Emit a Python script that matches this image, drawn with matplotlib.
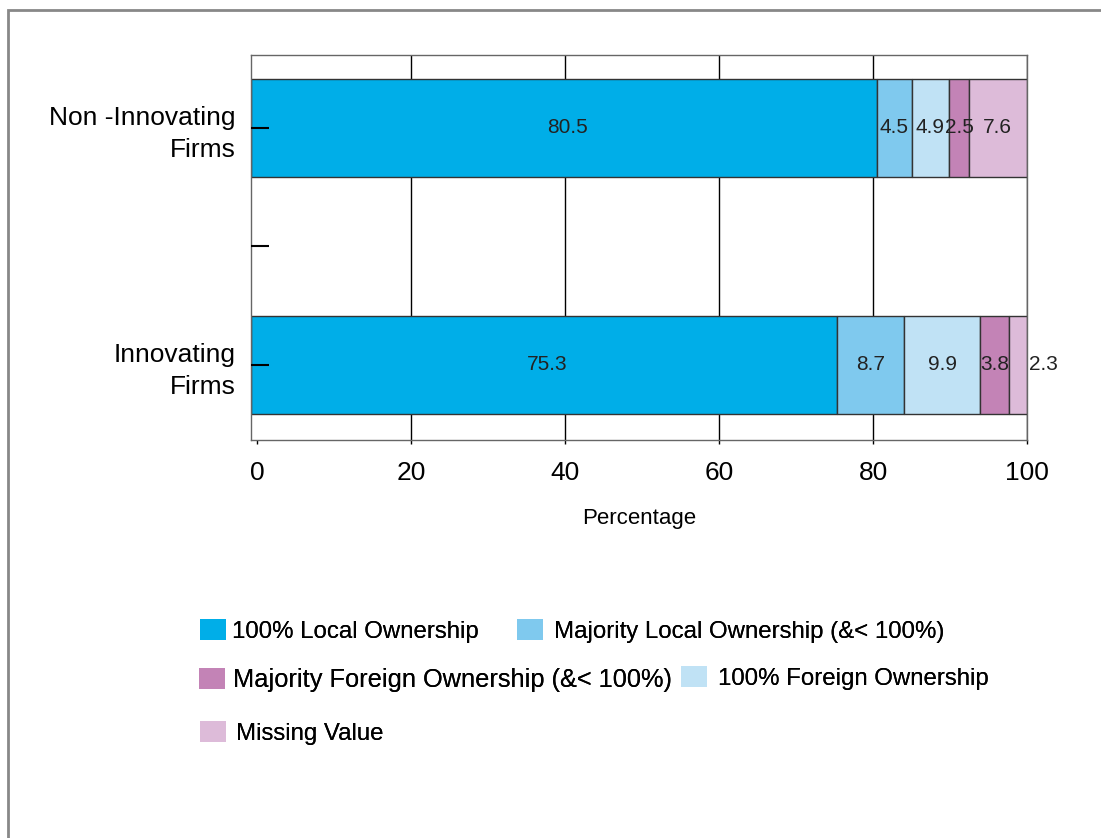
import matplotlib
matplotlib.use("Agg")
import matplotlib.pyplot as plt
from matplotlib.patches import Patch, Rectangle

plt.rcParams['font.family'] = ['Liberation Sans', 'DejaVu Sans']

# data
categories = ['Innovating\nFirms', '', 'Non -Innovating\nFirms']
series_names = ['100% Local Ownership', 'Majority Local Ownership (&< 100%)',
                '100% Foreign Ownership', 'Majority Foreign Ownership (&< 100%)',
                'Missing Value']
innovating = [75.3, 8.7, 9.9, 3.8, 2.3]
non_innovating = [80.5, 4.5, 4.9, 2.5, 7.6]
colors = ['#00AEE8', '#7FC9EE', '#C0E2F5', '#C383B6', '#DDBBD9']

fig = plt.figure(figsize=(11.01, 8.38), dpi=100)
ax = fig.add_axes([0.228, 0.475, 0.7049, 0.4594])

x0 = -0.8
ax.set_xlim(x0, 100)
ax.set_ylim(-0.633, 2.616)

rows = {0: innovating, 2: non_innovating}
for ypos, vals in rows.items():
    left = 0
    for i, v in enumerate(vals):
        # first segment runs from the axis edge, like the original
        start = x0 if i == 0 else left
        ax.barh(ypos, left + v - start, left=start, height=0.82, color=colors[i],
                edgecolor='#333333', linewidth=1, zorder=2)
        if i == len(vals) - 1 and v < 2.4:
            ax.text(left + v + 0.2, ypos, f'{v}', ha='left', va='center',
                    fontsize=15, color='#222222', zorder=4)
        else:
            ax.text(left + v / 2, ypos, f'{v}', ha='center', va='center',
                    fontsize=15, color='#222222', zorder=4)
        left += v

ax.set_xticks([0, 20, 40, 60, 80, 100])
ax.set_yticks([0, 1, 2])
ax.set_yticklabels(categories, fontsize=19, ha='right', linespacing=1.4)
ax.tick_params(axis='x', labelsize=19, direction='out', length=3, width=1,
               pad=12, color='black')
ax.tick_params(axis='y', direction='in', length=13, width=1.5, pad=11,
               color='black')
ax.set_xlabel('Percentage', fontsize=16, labelpad=17)

ax.grid(axis='x', color='black', linewidth=1)
ax.xaxis.get_gridlines()[0].set_visible(False)
ax.set_axisbelow(True)
ax.yaxis.set_zorder(5)

for s in ax.spines.values():
    s.set_color('#666666')
    s.set_linewidth(1)

# legend items, placed one by one (patch x, centre y in pixels)
handles = [Patch(facecolor=c, edgecolor='none') for c in colors]
legend_spots = [(0, 200, 631, 0.25, 17.3), (1, 517, 631, 0.42, 17.3),
                (3, 199, 680, 0.3, 18.3), (2, 681, 678, 0.45, 17.3),
                (4, 200, 733, 0.4, 17.3)]
W, H = 1101, 838
for i, px, py, tpad, fs in legend_spots:
    leg = fig.legend([handles[i]], [series_names[i]], loc='center left',
                     bbox_to_anchor=(px / W, 1 - py / H), frameon=False,
                     fontsize=fs, handlelength=1.1 * 17.3 / fs,
                     handleheight=0.95 * 17.3 / fs,
                     handletextpad=tpad, borderpad=0, borderaxespad=0)
    fig.add_artist(leg)

# outer frame
fig.add_artist(Rectangle((0.0075, -0.1), 1.2, 1.088, transform=fig.transFigure,
                         fill=False, edgecolor='#888888', linewidth=2,
                         clip_on=False))

fig.savefig('out.png', dpi=100)
